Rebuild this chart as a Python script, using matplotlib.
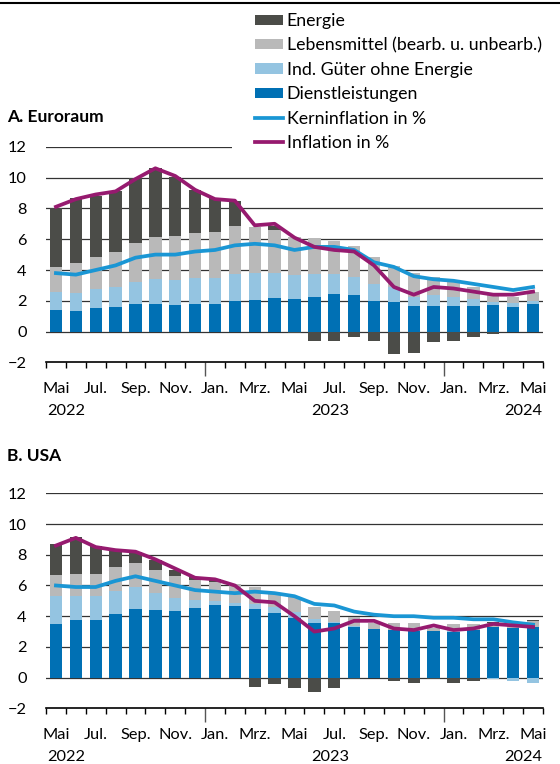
import numpy as np
import matplotlib
matplotlib.use("Agg")
import matplotlib.pyplot as plt
from matplotlib.patches import Patch, Rectangle
from matplotlib.lines import Line2D

plt.rcParams['font.family'] = ['Lato', 'DejaVu Sans']
plt.rcParams['font.size'] = 11.8

# Monate Mai 2022 .. Mai 2024
month_labels = ['Mai', 'Jul.', 'Sep.', 'Nov.', 'Jan.', 'Mrz.', 'Mai', 'Jul.', 'Sep.', 'Nov.', 'Jan.', 'Mrz.', 'Mai']
year_labels = ['2022', '2023', '2024']

# A. Euroraum, Beiträge in Prozentpunkten
euro_dienst = [1.41, 1.36, 1.56, 1.60, 1.77, 1.82, 1.75, 1.82, 1.77, 2.00, 2.06, 2.20, 2.12,
               2.27, 2.45, 2.38, 2.00, 1.95, 1.69, 1.69, 1.69, 1.69, 1.75, 1.62, 1.80]
euro_gueter = [1.14, 1.17, 1.19, 1.32, 1.48, 1.58, 1.63, 1.68, 1.73, 1.77, 1.73, 1.63, 1.54,
               1.45, 1.27, 1.19, 1.10, 0.97, 0.58, 0.67, 0.54, 0.41, 0.18, 0.22, 0.17]
euro_lebensm = [1.63, 1.91, 2.10, 2.25, 2.49, 2.77, 2.83, 2.89, 2.97, 3.09, 3.03, 2.77, 2.51,
                2.34, 2.18, 1.99, 1.73, 1.34, 1.52, 1.21, 1.02, 0.82, 0.56, 0.43, 0.58]
euro_energie = [3.82, 4.22, 3.95, 3.96, 4.22, 4.43, 3.85, 2.81, 2.23, 1.64, -0.05, 0.26, -0.10,
                -0.58, -0.63, -0.37, -0.58, -1.45, -1.41, -0.69, -0.63, -0.37, -0.17, -0.02, 0.02]
euro_kern = [3.8, 3.7, 4.0, 4.3, 4.8, 5.0, 5.0, 5.2, 5.3, 5.6, 5.7, 5.6, 5.3,
             5.5, 5.5, 5.3, 4.5, 4.2, 3.6, 3.4, 3.3, 3.1, 2.9, 2.7, 2.9]
euro_infl = [8.1, 8.6, 8.9, 9.1, 9.9, 10.6, 10.1, 9.2, 8.6, 8.5, 6.9, 7.0, 6.1,
             5.5, 5.3, 5.2, 4.3, 2.9, 2.4, 2.9, 2.8, 2.6, 2.4, 2.4, 2.6]

# B. USA
us_dienst = [3.47, 3.75, 3.75, 4.12, 4.49, 4.40, 4.36, 4.56, 4.70, 4.68, 4.46, 4.20, 3.87,
             3.54, 3.54, 3.33, 3.15, 3.11, 3.07, 3.04, 3.00, 3.11, 3.33, 3.22, 3.33]
us_gueter = [1.87, 1.59, 1.56, 1.54, 1.39, 1.09, 0.84, 0.49, 0.30, 0.20, 0.32, 0.39, 0.43,
             0.26, 0.11, 0.06, 0.02, 0.02, 0.02, 0.02, 0.02, 0.00, -0.10, -0.24, -0.33]
us_lebensm = [1.34, 1.38, 1.46, 1.52, 1.56, 1.51, 1.40, 1.31, 1.20, 1.22, 1.15, 0.85, 0.92,
              0.79, 0.70, 0.59, 0.42, 0.46, 0.50, 0.15, 0.48, 0.37, 0.20, 0.25, 0.37]
us_energie = [2.02, 2.45, 1.80, 1.08, 0.76, 0.66, 0.40, 0.21, 0.20, -0.05, -0.59, -0.43, -0.70,
              -0.91, -0.70, -0.10, 0.00, -0.22, -0.37, -0.10, -0.33, -0.20, 0.10, 0.05, 0.05]
us_kern = [6.0, 5.9, 5.9, 6.3, 6.6, 6.3, 6.0, 5.7, 5.6, 5.5, 5.6, 5.5, 5.3,
           4.8, 4.7, 4.3, 4.1, 4.0, 4.0, 3.9, 3.9, 3.8, 3.8, 3.6, 3.45]
us_infl = [8.6, 9.1, 8.5, 8.3, 8.2, 7.7, 7.1, 6.5, 6.4, 6.0, 5.0, 4.9, 4.0,
           3.0, 3.2, 3.7, 3.7, 3.2, 3.1, 3.4, 3.1, 3.2, 3.5, 3.4, 3.3]

c_energie = '#4b4c48'
c_lebensm = '#b9b9b9'
c_gueter = '#94c4e1'
c_dienst = '#0070b4'
c_kern = '#1a96d4'
c_infl = '#961a6f'

W, H = 560, 764


def draw_panel(ax, dienst, gueter, lebensm, energie, kern, infl):
	x = np.arange(len(dienst))
	pos = np.zeros(len(x))
	neg = np.zeros(len(x))
	for vals, col in [(dienst, c_dienst), (gueter, c_gueter), (lebensm, c_lebensm), (energie, c_energie)]:
		v = np.array(vals)
		bottom = np.where(v >= 0, pos, neg)
		ax.bar(x, v, bottom=bottom, width=0.62, color=col, zorder=2, linewidth=0)
		pos = pos + np.clip(v, 0, None)
		neg = neg + np.clip(v, None, 0)
	ax.plot(x, kern, color=c_kern, lw=2.7, zorder=3, solid_joinstyle='round')
	ax.plot(x, infl, color=c_infl, lw=2.7, zorder=4, solid_joinstyle='round')

	for yv in range(0, 13, 2):
		ax.axhline(yv, color='#333333', lw=0.9, zorder=0)
	ax.set_xlim(-0.5, 24.5)
	ax.set_ylim(-2, 12)
	for s in ['top', 'right', 'left']:
		ax.spines[s].set_visible(False)
	ax.spines['bottom'].set_linewidth(1.2)
	ax.set_yticks(range(-2, 13, 2))
	ax.set_yticklabels([str(v).replace('-', '\u2212') for v in range(-2, 13, 2)])
	ax.tick_params(axis='y', length=0, pad=14)
	bounds = np.arange(-0.5, 25, 1.0)
	ax.set_xticks([7.5, 19.5])
	ax.set_xticklabels([])
	ax.set_xticks([b for b in bounds if b not in (7.5, 19.5)], minor=True)
	ax.tick_params(axis='x', which='major', length=10, width=1.0, color='#555555')
	ax.tick_params(axis='x', which='minor', length=4, width=1.0)

	for k, lab in enumerate(month_labels):
		ax.annotate(lab, xy=(2 * k, 0), xycoords=('data', 'axes fraction'),
		            xytext=(0, -19), textcoords='offset points', ha='center', va='center')
	ax.annotate(year_labels[0], xy=(-0.45, 0), xycoords=('data', 'axes fraction'),
	            xytext=(0, -35), textcoords='offset points', ha='left', va='center')
	ax.annotate(year_labels[1], xy=(13.8, 0), xycoords=('data', 'axes fraction'),
	            xytext=(0, -35), textcoords='offset points', ha='center', va='center')
	ax.annotate(year_labels[2], xy=(24.45, 0), xycoords=('data', 'axes fraction'),
	            xytext=(0, -35), textcoords='offset points', ha='right', va='center')


fig = plt.figure(figsize=(W / 100, H / 100), dpi=100)
ax_a = fig.add_axes([46 / W, 1 - 362.5 / H, 497 / W, 215.8 / H])
ax_b = fig.add_axes([46 / W, 1 - 708.4 / H, 497 / W, 215.1 / H])

draw_panel(ax_a, euro_dienst, euro_gueter, euro_lebensm, euro_energie, euro_kern, euro_infl)
draw_panel(ax_b, us_dienst, us_gueter, us_lebensm, us_energie, us_kern, us_infl)

fig.text(7 / W, 1 - 117 / H, 'A. Euroraum', fontweight='bold', va='center', ha='left', fontsize=12.5)
fig.text(7 / W, 1 - 456 / H, 'B. USA', fontweight='bold', va='center', ha='left', fontsize=12.5)

# Linie oben
fig.add_artist(Line2D([0, 1], [1 - 3 / H, 1 - 3 / H], color='black', lw=1.5, transform=fig.transFigure))

# weisser Hintergrund hinter der Legende
fig.add_artist(Rectangle((232 / W, 1 - 151 / H), 1 - 232 / W, 141 / H, transform=fig.transFigure,
                         facecolor='white', edgecolor='none', zorder=1))

handles = [
	Patch(facecolor=c_energie, edgecolor='none'),
	Patch(facecolor=c_lebensm, edgecolor='none'),
	Patch(facecolor=c_gueter, edgecolor='none'),
	Patch(facecolor=c_dienst, edgecolor='none'),
	Line2D([], [], color=c_kern, lw=2.7),
	Line2D([], [], color=c_infl, lw=2.7),
]
labels = ['Energie', 'Lebensmittel (bearb. u. unbearb.)', 'Ind. Güter ohne Energie',
          'Dienstleistungen', 'Kerninflation in %', 'Inflation in %']
leg = fig.legend(handles, labels, loc='upper left', bbox_to_anchor=(255 / W, 1 - 13 / H),
                 frameon=False, borderpad=0, borderaxespad=0, handlelength=1.55,
                 handleheight=0.5, handletextpad=0.23, labelspacing=0.47, fontsize=12.8)
leg.set_zorder(5)

plt.savefig('out.png', dpi=100)
